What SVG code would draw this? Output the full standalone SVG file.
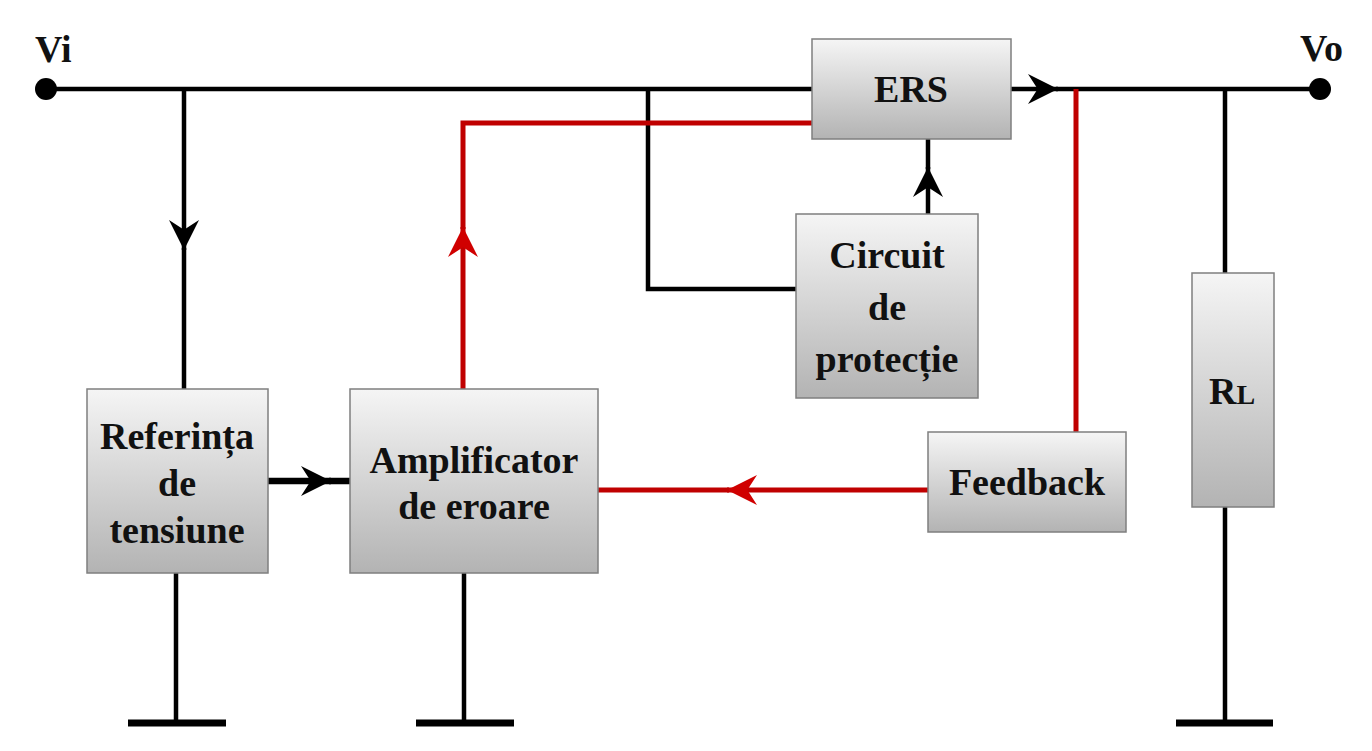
<svg xmlns="http://www.w3.org/2000/svg" width="1372" height="751" viewBox="0 0 1372 751">
<style>
.box{fill:url(#g);stroke:#7f7f7f;stroke-width:1.5}
.t{font-family:"Liberation Serif","Times New Roman",serif;font-weight:bold;font-size:38px;fill:#111;text-anchor:middle}
.lbl{font-family:"Liberation Serif","Times New Roman",serif;font-weight:bold;font-size:38px;fill:#111}
.k{fill:none;stroke:#000;stroke-width:4.5}
.kt{fill:none;stroke:#000;stroke-width:6.5}
.r{fill:none;stroke:#c00000;stroke-width:5}
.gnd{fill:none;stroke:#000;stroke-width:7}
</style>
<defs>
<linearGradient id="g" x1="0" y1="0" x2="0" y2="1">
<stop offset="0" stop-color="#f5f5f5"/>
<stop offset="1" stop-color="#b3b3b3"/>
</linearGradient>
<marker id="ak" markerUnits="userSpaceOnUse" markerWidth="30" markerHeight="30" viewBox="0 0 28 28" refX="28" refY="14" orient="auto">
<path d="M0,0 L28,14 L0,28 L9,14 Z" fill="#000"/>
</marker>
<marker id="ar" markerUnits="userSpaceOnUse" markerWidth="30" markerHeight="30" viewBox="0 0 28 28" refX="28" refY="14" orient="auto">
<path d="M0,0 L28,14 L0,28 L9,14 Z" fill="#d00000"/>
</marker>
</defs>
<rect width="1372" height="751" fill="#fff"/>
<g id="connectors">
<path class="k" d="M46,89 H812"/>
<path class="k" d="M184,89 V250" marker-end="url(#ak)"/>
<path class="k" d="M184,248 V389"/>
<path class="k" d="M648,89 V289 H796"/>
<path class="k" d="M928,214 V167" marker-end="url(#ak)"/>
<path class="k" d="M928,169 V139"/>
<path class="k" d="M1011,89 H1058" marker-end="url(#ak)"/>
<path class="k" d="M1056,89 H1320"/>
<path class="k" d="M1225,89 V273"/>
<path class="k" d="M1225,507 V723"/>
<path class="kt" d="M268,481 H331" marker-end="url(#ak)"/>
<path class="kt" d="M329,481 H350"/>
<path class="k" d="M176,573 V723"/>
<path class="k" d="M464,573 V723"/>
<path class="gnd" d="M128,723 H226"/>
<path class="gnd" d="M416,723 H514"/>
<path class="gnd" d="M1176,723 H1273"/>
<path class="r" d="M1076,89 V432"/>
<path class="r" d="M928,490 H727" marker-end="url(#ar)"/>
<path class="r" d="M729,490 H598"/>
<path class="r" d="M463,389 V227" marker-end="url(#ar)"/>
<path class="r" d="M463,229 V123 H812"/>
</g>
<g id="vi">
<circle cx="46" cy="89" r="11" fill="#000"/>
<text class="lbl" x="35" y="62">Vi</text>
</g>
<g id="vo">
<circle cx="1320" cy="89" r="11" fill="#000"/>
<text class="lbl" x="1300" y="61">Vo</text>
</g>
<g id="ers">
<rect class="box" x="812" y="39" width="199" height="100"/>
<text class="t" x="911" y="102">ERS</text>
</g>
<g id="circuit">
<rect class="box" x="796" y="214" width="182" height="184"/>
<text class="t" x="887" y="268">Circuit</text>
<text class="t" x="887" y="320">de</text>
<text class="t" x="887" y="372">protecție</text>
</g>
<g id="referinta">
<rect class="box" x="87" y="389" width="181" height="184"/>
<text class="t" x="177" y="449">Referința</text>
<text class="t" x="177" y="496">de</text>
<text class="t" x="177" y="543">tensiune</text>
</g>
<g id="amplificator">
<rect class="box" x="350" y="389" width="248" height="184"/>
<text class="t" x="474" y="473">Amplificator</text>
<text class="t" x="474" y="519">de eroare</text>
</g>
<g id="feedback">
<rect class="box" x="928" y="432" width="198" height="100"/>
<text class="t" x="1027" y="495">Feedback</text>
</g>
<g id="rl">
<rect class="box" x="1192" y="273" width="82" height="234"/>
<text class="t" x="1232" y="404">R<tspan font-size="28">L</tspan></text>
</g>
</svg>
